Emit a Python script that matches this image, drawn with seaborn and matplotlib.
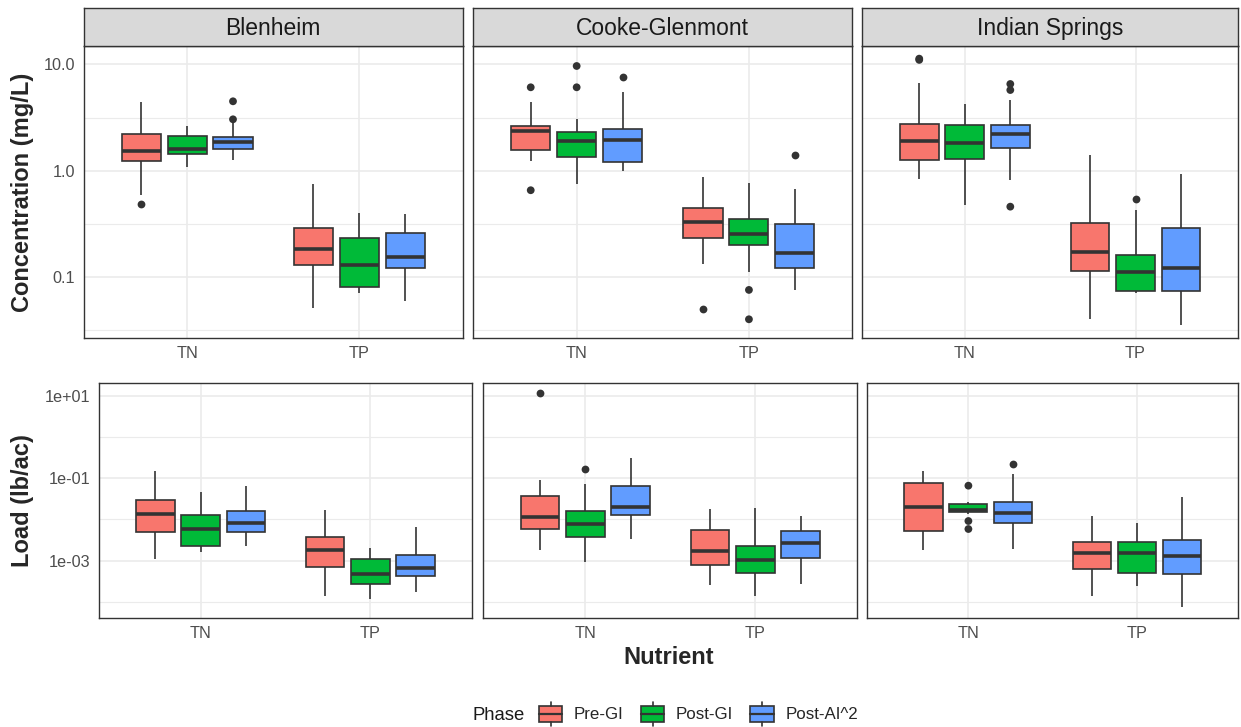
import numpy as np
import pandas as pd
import matplotlib
matplotlib.use("Agg")
import matplotlib.pyplot as plt
import seaborn as sns
from matplotlib.patches import Rectangle, Patch
from matplotlib.lines import Line2D
from matplotlib.legend_handler import HandlerBase
from matplotlib.ticker import FixedLocator, FixedFormatter, NullFormatter

sns.set_style("white")
plt.rcParams["font.family"] = ["Liberation Sans", "DejaVu Sans"]

# ---------------- data ----------------
sites = ["Blenheim", "Cooke-Glenmont", "Indian Springs"]
nutrients = ["TN", "TP"]
phases = ["Pre-GI", "Post-GI", "Post-AI^2"]
colors = ["#F8766D", "#00BA38", "#619CFF"]

# Concentration (mg/L) box statistics, indexed [site][nutrient][phase]
conc_lo = [[[0.59, 1.09, 1.26], [0.051, 0.0705, 0.060]],
           [[1.22, 0.75, 0.99], [0.132, 0.111, 0.0757]],
           [[0.83, 0.476, 0.818], [0.0404, 0.0713, 0.0355]]]
conc_q1 = [[[1.22, 1.43, 1.59], [0.130, 0.080, 0.121]],
           [[1.56, 1.35, 1.20], [0.233, 0.200, 0.121]],
           [[1.25, 1.30, 1.64], [0.115, 0.0747, 0.0747]]]
conc_med = [[[1.53, 1.60, 1.87], [0.182, 0.130, 0.156]],
            [[2.36, 1.90, 1.96], [0.332, 0.252, 0.169]],
            [[1.90, 1.81, 2.21], [0.171, 0.111, 0.122]]]
conc_q3 = [[[2.21, 2.12, 2.09], [0.291, 0.232, 0.261]],
           [[2.63, 2.30, 2.45], [0.444, 0.352, 0.315]],
           [[2.73, 2.71, 2.69], [0.321, 0.160, 0.288]]]
conc_hi = [[[4.45, 2.63, 2.95], [0.75, 0.398, 0.389]],
           [[4.45, 3.06, 5.5], [0.879, 0.771, 0.678]],
           [[6.71, 4.21, 4.62], [1.40, 0.428, 0.937]]]
# outliers: (site, nutrient, phase, value)
conc_outliers = [
    ("Blenheim", "TN", "Pre-GI", 0.49),
    ("Blenheim", "TN", "Post-AI^2", 3.04),
    ("Blenheim", "TN", "Post-AI^2", 4.49),
    ("Cooke-Glenmont", "TN", "Pre-GI", 6.08),
    ("Cooke-Glenmont", "TN", "Pre-GI", 0.655),
    ("Cooke-Glenmont", "TN", "Post-GI", 6.08),
    ("Cooke-Glenmont", "TN", "Post-GI", 9.64),
    ("Cooke-Glenmont", "TN", "Post-AI^2", 7.64),
    ("Cooke-Glenmont", "TP", "Pre-GI", 0.050),
    ("Cooke-Glenmont", "TP", "Post-GI", 0.0757),
    ("Cooke-Glenmont", "TP", "Post-GI", 0.0401),
    ("Cooke-Glenmont", "TP", "Post-AI^2", 1.41),
    ("Indian Springs", "TN", "Pre-GI", 11.0),
    ("Indian Springs", "TN", "Pre-GI", 11.3),
    ("Indian Springs", "TN", "Post-AI^2", 6.53),
    ("Indian Springs", "TN", "Post-AI^2", 5.73),
    ("Indian Springs", "TN", "Post-AI^2", 0.459),
    ("Indian Springs", "TP", "Post-GI", 0.542),
]

# Load (lb/ac) box statistics, indexed [site][nutrient][phase]
load_lo = [[[0.00108, 0.0016, 0.00227], [0.000139, 0.000118, 0.000171]],
           [[0.00179, 0.00093, 0.0033], [0.000253, 0.000137, 0.000277]],
           [[0.00182, 0.0135, 0.00189], [0.000139, 0.000248, 0.0000741]]]
load_q1 = [[[0.00505, 0.00231, 0.00505], [0.00069, 0.000268, 0.000419]],
           [[0.00597, 0.00382, 0.0130], [0.000773, 0.000494, 0.00114]],
           [[0.00515, 0.0154, 0.00805], [0.00064, 0.000494, 0.000468]]]
load_med = [[[0.01355, 0.00586, 0.00805], [0.00182, 0.000468, 0.000676]],
            [[0.01166, 0.00776, 0.0204], [0.00172, 0.00106, 0.00264]],
            [[0.0204, 0.0174, 0.0141], [0.00151, 0.00151, 0.00128]]]
load_q3 = [[[0.0296, 0.0128, 0.0157], [0.00376, 0.0011, 0.00137]],
           [[0.0377, 0.016, 0.0647], [0.00565, 0.00227, 0.00533]],
           [[0.0752, 0.0237, 0.0269], [0.00289, 0.00279, 0.00312]]]
load_hi = [[[0.152, 0.0455, 0.0647], [0.0167, 0.0020, 0.00645]],
           [[0.089, 0.0711, 0.309], [0.0176, 0.0186, 0.0119]],
           [[0.152, 0.0265, 0.1265], [0.0121, 0.00805, 0.0344]]]
load_outliers = [
    ("Cooke-Glenmont", "TN", "Pre-GI", 11.4),
    ("Cooke-Glenmont", "TN", "Post-GI", 0.164),
    ("Indian Springs", "TN", "Post-GI", 0.0658),
    ("Indian Springs", "TN", "Post-GI", 0.00916),
    ("Indian Springs", "TN", "Post-GI", 0.00586),
    ("Indian Springs", "TN", "Post-AI^2", 0.217),
]

conc_ticks = [0.1, 1.0, 10.0]
conc_ticklabels = ["0.1", "1.0", "10.0"]
conc_minor = [0.0316, 0.316, 3.16]
load_ticks = [1e-3, 1e-1, 1e1]
load_ticklabels = ["1e-03", "1e-01", "1e+01"]
load_minor = [1e-4, 1e-2, 1e0]


def box_frame(lo, q1, med, q3, hi):
    rows = []
    for si, site in enumerate(sites):
        for ni, nut in enumerate(nutrients):
            for pi, ph in enumerate(phases):
                vals = ([lo[si][ni][pi]] + [q1[si][ni][pi]] * 20 + [med[si][ni][pi]] * 20
                        + [q3[si][ni][pi]] * 20 + [hi[si][ni][pi]])
                for v in vals:
                    rows.append((site, nut, ph, v))
    return pd.DataFrame(rows, columns=["Site", "Nutrient", "Phase", "Value"])


conc_df = box_frame(conc_lo, conc_q1, conc_med, conc_q3, conc_hi)
load_df = box_frame(load_lo, load_q1, load_med, load_q3, load_hi)
conc_out = pd.DataFrame(conc_outliers, columns=["Site", "Nutrient", "Phase", "Value"])
load_out = pd.DataFrame(load_outliers, columns=["Site", "Nutrient", "Phase", "Value"])

# ---------------- layout ----------------
W, H = 1241, 727
fig = plt.figure(figsize=(W / 100, H / 100), dpi=100)


def fr(x0, x1, ytop, ybot):
    return [x0 / W, 1 - ybot / H, (x1 - x0) / W, (ybot - ytop) / H]


top_x = [(83.7, 462.7), (473.3, 852.3), (862.3, 1238)]
bot_x = [(98.7, 472.3), (483.3, 857.3), (867.3, 1238)]
top_y = (46, 337.7)
bot_y = (383.3, 617.7)
strip_y = (8.3, 45.5)

EDGE = "#333333"
GRID = "#EBEBEB"


def draw_panel(ax, dfb, dfo, ylim, majors, mlabels, minors, show_y):
    ax.set_yscale("log")
    sns.boxplot(data=dfb, x="Nutrient", y="Value", hue="Phase", order=nutrients,
                hue_order=phases, palette=colors, saturation=1, width=0.8, gap=0.15,
                whis=(0, 100), showcaps=False, linecolor=EDGE, linewidth=1.2,
                medianprops={"linewidth": 2.6, "color": EDGE}, showfliers=False,
                legend=False, ax=ax, log_scale=True)
    if len(dfo):
        sns.stripplot(data=dfo, x="Nutrient", y="Value", hue="Phase", order=nutrients,
                      hue_order=phases, palette=[EDGE] * 3, dodge=True, jitter=False,
                      size=5.6, linewidth=0, legend=False, ax=ax, log_scale=True, zorder=4)
    ax.set_xlim(-0.6, 1.6)
    ax.set_ylim(*ylim)
    ax.yaxis.set_major_locator(FixedLocator(majors))
    ax.yaxis.set_major_formatter(FixedFormatter(mlabels))
    ax.yaxis.set_minor_locator(FixedLocator(minors))
    ax.yaxis.set_minor_formatter(NullFormatter())
    ax.set_axisbelow(True)
    ax.grid(True, which="major", color=GRID, lw=1.2)
    ax.grid(True, which="minor", axis="y", color=GRID, lw=0.8)
    ax.tick_params(which="minor", length=0)
    ax.tick_params(which="major", length=3.6, width=0.9, color=EDGE, labelcolor="#4D4D4D",
                   labelsize=11.7, pad=2.5)
    if not show_y:
        ax.tick_params(axis="y", left=False, labelleft=False)
    ax.set_xlabel("")
    ax.set_ylabel("")
    for s in ax.spines.values():
        s.set_visible(True)
        s.set_color(EDGE)
        s.set_linewidth(1.0)
    ax.set_facecolor("white")


conc_ylim = (10 ** -1.57, 10 ** 1.172)
load_ylim = (10 ** -4.382, 10 ** 1.30)

for i, site in enumerate(sites):
    ax = fig.add_axes(fr(top_x[i][0], top_x[i][1], *top_y))
    draw_panel(ax, conc_df[conc_df.Site == site], conc_out[conc_out.Site == site],
               conc_ylim, conc_ticks, conc_ticklabels, conc_minor, i == 0)
    sax = fig.add_axes(fr(top_x[i][0], top_x[i][1], *strip_y))
    sax.set_facecolor("#D9D9D9")
    sax.set_xticks([])
    sax.set_yticks([])
    for s in sax.spines.values():
        s.set_color(EDGE)
        s.set_linewidth(1.0)
    sax.text(0.5, 0.47, site, ha="center", va="center", fontsize=16.5, color="#1A1A1A",
             transform=sax.transAxes)

    ax2 = fig.add_axes(fr(bot_x[i][0], bot_x[i][1], *bot_y))
    draw_panel(ax2, load_df[load_df.Site == site], load_out[load_out.Site == site],
               load_ylim, load_ticks, load_ticklabels, load_minor, i == 0)

# axis titles
fig.text(23 / W, 1 - 192 / H, "Concentration (mg/L)", rotation=90, ha="center", va="center",
         fontsize=17, fontweight="bold")
fig.text(23 / W, 1 - 500.5 / H, "Load (lb/ac)", rotation=90, ha="center", va="center",
         fontsize=17, fontweight="bold")
fig.text(669 / W, 1 - 657 / H, "Nutrient", ha="center", va="center", fontsize=17,
         fontweight="bold")


# legend
class BoxKey(HandlerBase):
    def create_artists(self, legend, orig_handle, xdescent, ydescent, width, height,
                       fontsize, trans):
        fc = orig_handle.get_facecolor()
        x0, y0 = -xdescent, -ydescent
        stub = height * 0.14
        rect = Rectangle((x0, y0 + stub), width, height - 2 * stub, facecolor=fc,
                         edgecolor=EDGE, lw=1.2, transform=trans)
        med = Line2D([x0, x0 + width], [y0 + height / 2] * 2, color=EDGE, lw=1.6,
                     transform=trans)
        w1 = Line2D([x0 + width / 2] * 2, [y0, y0 + stub], color=EDGE, lw=1.2, transform=trans)
        w2 = Line2D([x0 + width / 2] * 2, [y0 + height - stub, y0 + height], color=EDGE,
                    lw=1.2, transform=trans)
        return [rect, med, w1, w2]


handles = [Patch(facecolor=c) for c in colors]
fig.text(472.7 / W, 1 - 714 / H, "Phase", ha="left", va="center_baseline", fontsize=13.3,
         color="#1A1A1A")
fig.legend(handles, phases, handler_map={Patch: BoxKey()}, loc="center left",
           bbox_to_anchor=(538.7 / W, 1 - 714 / H), ncol=3, frameon=False, fontsize=12.2,
           handlelength=1.4, handleheight=1.75, handletextpad=0.68, columnspacing=1.0,
           borderpad=0, borderaxespad=0)

fig.savefig("out.png", dpi=100, facecolor="white")
